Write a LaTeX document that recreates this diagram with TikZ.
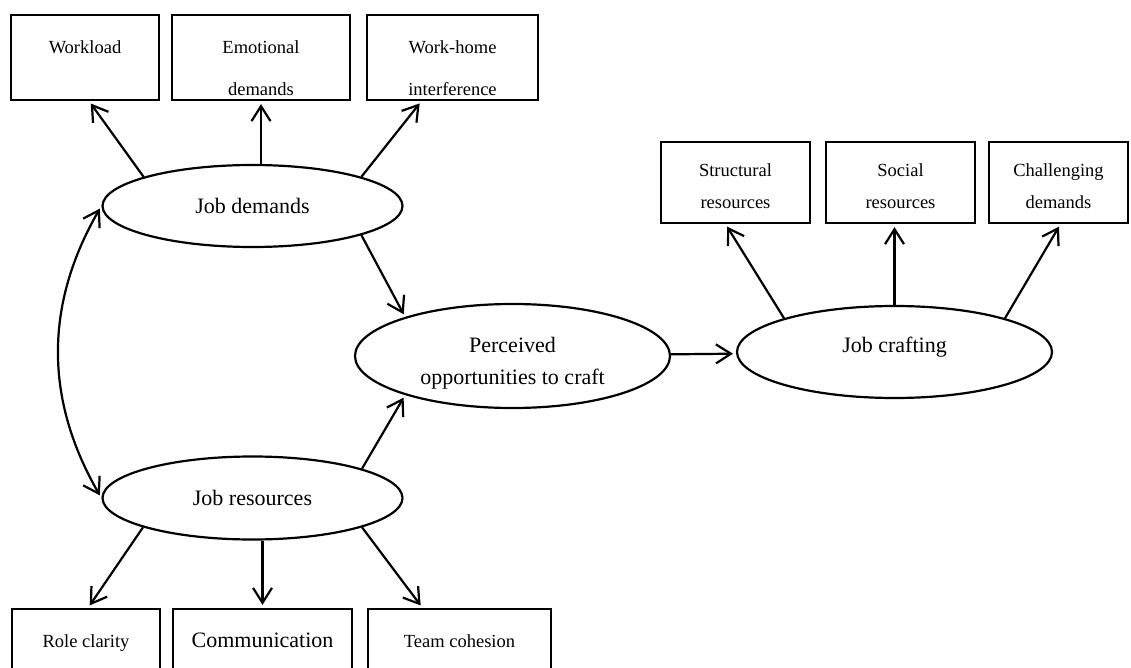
\documentclass[tikz,border=0pt]{standalone}
\usepackage{fontspec}
\setmainfont{Liberation Serif}
\usetikzlibrary{arrows.meta, positioning, shapes.geometric}
\newcommand{\toppad}{\rule{0pt}{34pt}}

\begin{document}
\begin{tikzpicture}[x=1pt, y=-1pt,
    >={Straight Barb[length=15pt,width=19pt]},
    ind/.style={rectangle, draw, line width=2.2pt, minimum height=85pt, inner sep=0pt,
                align=center, font=\fontsize{18.5}{42}\selectfont},
    res/.style={rectangle, draw, line width=2.2pt, minimum height=81pt, minimum width=149pt,
                inner sep=0pt, align=center, font=\fontsize{18.5}{32}\selectfont},
    lat/.style={ellipse, draw, line width=2.2pt, inner sep=0pt, align=center,
                font=\fontsize{22}{32}\selectfont},
    arr/.style={->, line width=2.2pt, shorten >=3pt},
  ]
  \useasboundingbox (0,0) rectangle (1131,668);

  % job demands and its indicators
  \node[ind, minimum width=148pt] (wload)  at (85,57.5)    {\toppad Workload\\\mbox{}};
  \node[ind, minimum width=178pt] (emot)   at (261,57.5)   {\toppad Emotional\\demands};
  \node[ind, minimum width=171pt] (wohome) at (452.5,57.5) {\toppad Work-home\\interference};
  \node[lat, minimum width=300pt, minimum height=82pt] (jdem) at (252.5,206) {Job demands};

  % job resources and its indicators
  \node[lat, minimum width=300pt, minimum height=83pt] (jres) at (252.5,498) {Job resources};
  \node[ind, minimum width=148pt] (role) at (86,651.5) {\toppad Role clarity\\\mbox{}};
  \node[ind, minimum width=179pt, font=\fontsize{22}{42}\selectfont] (comm) at (262.5,651.5)
        {\toppad Communication\\\mbox{}};
  \node[ind, minimum width=183pt] (team) at (459.5,651.5) {\toppad Team cohesion\\\mbox{}};

  % mediator and outcome
  \node[lat, minimum width=315pt, minimum height=104pt] (perc) at (512.5,356)
        {\rule{0pt}{29pt}Perceived\\opportunities to craft};
  \node[lat, minimum width=315pt, minimum height=92pt] (craft) at (894.5,352)
        {Job crafting\rule[-15pt]{0pt}{0pt}};
  \node[res] (struc) at (735.5,182.5) {\rule{0pt}{20pt}Structural\\resources};
  \node[res] (soc)   at (900.5,182.5) {\rule{0pt}{20pt}Social\\resources};
  \node[res, minimum width=139pt] (chall) at (1058.5,182.5) {\rule{0pt}{20pt}Challenging\\demands};

  \draw[arr] (jdem.165) -- ([xshift=4pt]wload.south);
  \draw[arr] (jdem.north -| emot.south) -- (emot.south);
  \draw[arr] (jdem.15) -- ([xshift=-31pt]wohome.south);

  \draw[arr] (jres.195) -- ([xshift=2pt]role.north);
  \draw[arr] (jres.south -| comm.north) -- (comm.north);
  \draw[arr] (jres.-15) -- ([xshift=-37pt]team.north);

  \draw[arr, <->, shorten <=3pt] (jdem.west) to[out=240, in=120] (jres.west);

  \draw[arr] (jdem.-15) -- (perc.160);
  \draw[arr] (jres.15) -- (perc.200);
  \draw[arr] (perc) -- (craft);

  \draw[arr] (craft.163) -- ([xshift=-10pt]struc.south);
  \draw[arr] (craft.north) -- (craft.north |- soc.south);
  \draw[arr] (craft.17) -- ([xshift=2pt]chall.south);
\end{tikzpicture}
\end{document}
